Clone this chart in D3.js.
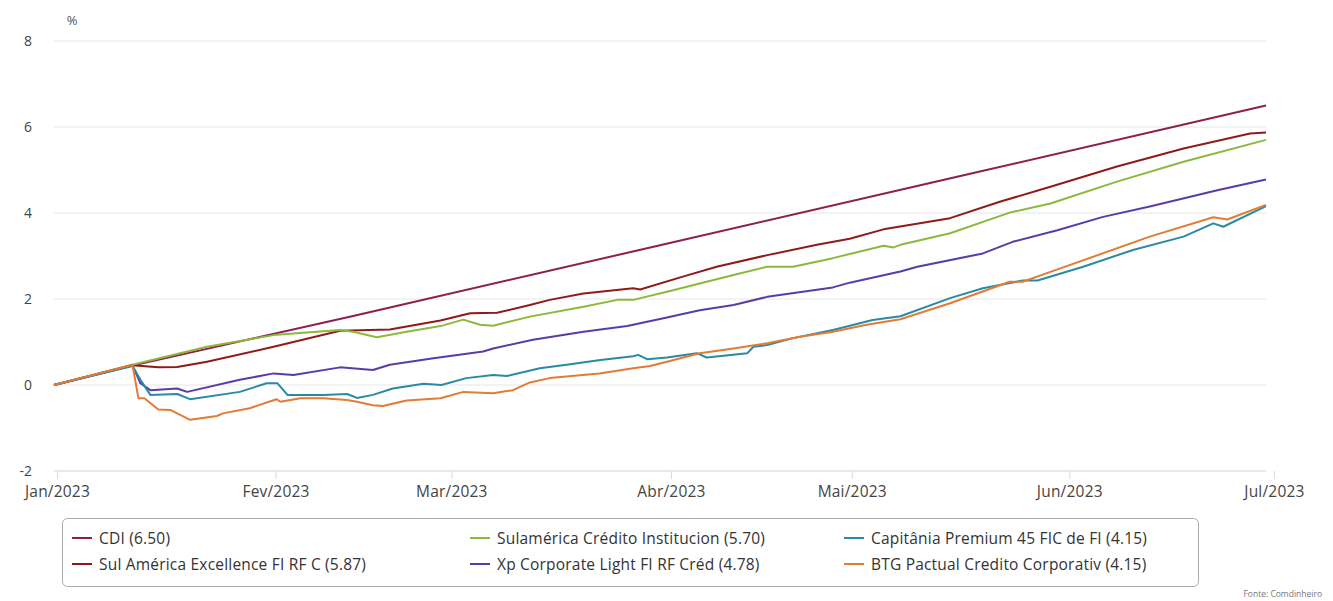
<!DOCTYPE html>
<html>
<head>
<meta charset="utf-8">
<script src="https://cdn.jsdelivr.net/npm/d3@7"></script>
<style>
  body { margin: 0; background: #fff; }
  svg { font-family: "Open Sans", sans-serif; }
</style>
</head>
<body>
<div id="chart"></div>
<script>
// x values are trading-day index since start of 2023

var monthTicks = [0.3, 22.3, 40.0, 62.1, 80.3, 102.2, 122.8];
var monthLabels = ["Jan/2023", "Fev/2023", "Mar/2023", "Abr/2023", "Mai/2023", "Jun/2023", "Jul/2023"];
var yTicks = [-2, 0, 2, 4, 6, 8];

var cdi = [[0, 0], [7.9, 0.45], [30, 1.6], [61, 3.25], [92, 4.9], [122, 6.5]];

var sulAmerica = [[0, 0], [7.9, 0.46], [10.5, 0.41], [12.4, 0.42], [15.4, 0.54], [22.1, 0.89], [28.8, 1.26],
    [33.8, 1.29], [38.9, 1.50], [41.9, 1.67], [44.6, 1.68], [47.9, 1.86], [49.9, 1.98], [53.3, 2.13],
    [58.3, 2.25], [59.0, 2.22], [63.3, 2.52], [66.7, 2.75], [71.8, 3.02], [76.8, 3.26], [80.1, 3.40],
    [83.5, 3.62], [90.2, 3.88], [95.2, 4.26], [100.3, 4.61], [107, 5.08], [113.7, 5.50], [120.4, 5.85], [122, 5.87]];

var sulamericaCredito = [[0, 0], [7.9, 0.47], [15.4, 0.89], [22.1, 1.16], [28.8, 1.28], [30.1, 1.24],
    [32.5, 1.11], [35.5, 1.24], [38.9, 1.37], [41.2, 1.52], [42.9, 1.40], [44.2, 1.38], [47.9, 1.59],
    [53.3, 1.82], [56.7, 1.98], [58.3, 1.98], [61.7, 2.17], [68.4, 2.56], [71.8, 2.75], [74.4, 2.75],
    [78.4, 2.95], [83.5, 3.24], [84.5, 3.20], [85.2, 3.26], [90.2, 3.53], [96.2, 4.01], [100.3, 4.22],
    [107, 4.73], [113.7, 5.19], [122, 5.70]];

var xpCorporate = [[0, 0], [7.9, 0.46], [8.7, 0.04], [9.7, -0.12], [12.4, -0.08], [13.4, -0.16], [18.7, 0.12],
    [22.1, 0.27], [24.1, 0.23], [28.8, 0.41], [32.1, 0.35], [33.8, 0.47], [38.2, 0.62], [43.2, 0.78],
    [44.2, 0.85], [48.2, 1.05], [53.3, 1.24], [57.7, 1.37], [61.7, 1.57], [65, 1.74], [68.4, 1.86],
    [71.8, 2.05], [78.4, 2.27], [80.1, 2.38], [85.2, 2.64], [86.9, 2.75], [93.5, 3.06], [96.5, 3.33],
    [101, 3.60], [105.6, 3.91], [110.3, 4.15], [117.1, 4.53], [122, 4.78]];

var capitania = [[0, 0], [7.9, 0.44], [8.7, 0.12], [9.7, -0.23], [12.4, -0.21], [13.7, -0.33], [18.7, -0.16],
    [21.4, 0.04], [22.5, 0.04], [23.5, -0.23], [27.1, -0.23], [29.5, -0.21], [30.5, -0.30], [32.1, -0.23],
    [34.1, -0.08], [37.2, 0.03], [39.0, 0.0], [41.5, 0.16], [44.2, 0.23], [45.6, 0.21], [48.9, 0.39],
    [51.6, 0.47], [55, 0.58], [58.3, 0.67], [58.8, 0.70], [59.7, 0.60], [61.7, 0.64], [64.7, 0.74],
    [65.7, 0.64], [69.8, 0.74], [70.4, 0.89], [71.8, 0.93], [74.4, 1.09], [78.4, 1.28], [82.4, 1.51],
    [85.2, 1.60], [90.2, 2.02], [93.5, 2.25], [97.5, 2.43], [99, 2.43], [103.6, 2.75], [108.6, 3.14],
    [113.7, 3.45], [116.7, 3.76], [117.7, 3.68], [122, 4.16]];

var btgPactual = [[0, 0], [7.9, 0.47], [8.5, -0.31], [9.1, -0.31], [10.5, -0.57], [11.7, -0.58], [13.7, -0.81],
    [16.4, -0.72], [17, -0.66], [19.7, -0.54], [22.4, -0.33], [22.8, -0.39], [24.8, -0.31], [27.1, -0.31],
    [29.5, -0.35], [30.5, -0.39], [32.1, -0.47], [33.1, -0.49], [35.5, -0.36], [38.9, -0.31], [41.2, -0.16],
    [44.2, -0.19], [46.2, -0.12], [47.9, 0.06], [49.9, 0.16], [54.9, 0.27], [58.3, 0.39], [60, 0.44],
    [61.7, 0.54], [65, 0.74], [68.4, 0.85], [71.8, 0.97], [75.1, 1.12], [78.4, 1.24], [81.8, 1.40],
    [85.2, 1.53], [90.2, 1.90], [96.2, 2.40], [97.5, 2.40], [100.3, 2.63], [110.3, 3.45], [116.7, 3.90],
    [118.1, 3.85], [122, 4.19]];

// legend order (row by row)
var names = ["CDI (6.50)", "Sulamérica Crédito Institucion (5.70)", "Capitânia Premium 45 FIC de FI (4.15)",
    "Sul América Excellence FI RF C (5.87)", "Xp Corporate Light FI RF Créd (4.78)", "BTG Pactual Credito Corporativ (4.15)"];
var colors = ["#8c1f4f", "#8db83c", "#2a8aa6", "#8e1b1b", "#5a3ca8", "#e27b35"];
var seriesData = [cdi, sulamericaCredito, capitania, sulAmerica, xpCorporate, btgPactual];
var drawOrder = [0, 3, 1, 4, 2, 5];

var width = 1333, height = 601;

var svg = d3.select("#chart").append("svg")
    .attr("width", width)
    .attr("height", height);

var x = d3.scaleLinear().domain([0, 122]).range([54, 1266]);
var y = d3.scaleLinear().domain([-2, 8]).range([471, 41]);

// gridlines
svg.append("g")
    .selectAll("line")
    .data(yTicks)
    .enter().append("line")
    .attr("x1", 54)
    .attr("x2", 1266)
    .attr("y1", function(d) { return y(d); })
    .attr("y2", function(d) { return y(d); })
    .attr("stroke", function(d) { return d == -2 ? "#cdd3dc" : "#e6e6e6"; })
    .attr("stroke-width", 1);

// y labels
svg.append("g")
    .selectAll("text")
    .data(yTicks)
    .enter().append("text")
    .attr("x", 32)
    .attr("y", function(d) { return y(d) + 5; })
    .attr("text-anchor", "end")
    .attr("font-size", 14)
    .attr("fill", "#444")
    .text(function(d) { return d < 0 ? "-" + Math.abs(d) : d; });

svg.append("text")
    .attr("x", 72)
    .attr("y", 25)
    .attr("text-anchor", "middle")
    .attr("font-size", 13)
    .attr("fill", "#555")
    .text("%");

// x axis
var xAxis = d3.axisBottom(x)
    .tickValues(monthTicks)
    .tickSize(8)
    .tickPadding(7)
    .tickFormat(function(d, i) { return monthLabels[i]; });

var gx = svg.append("g")
    .attr("transform", "translate(0,471)")
    .call(xAxis);
gx.select(".domain").remove();
gx.selectAll("line").attr("stroke", "#d8dde6");
gx.selectAll("text")
    .attr("font-size", 15.5)
    .attr("letter-spacing", 0.2)
    .attr("fill", "#444")
    .attr("font-family", "Open Sans, sans-serif");

// lines
var line = d3.line()
    .x(function(d) { return x(d[0]); })
    .y(function(d) { return y(d[1]); });

svg.append("g")
    .selectAll("path")
    .data(drawOrder)
    .enter().append("path")
    .attr("d", function(i) { return line(seriesData[i]); })
    .attr("fill", "none")
    .attr("stroke", function(i) { return colors[i]; })
    .attr("stroke-width", 2)
    .attr("stroke-linejoin", "round");

// legend
svg.append("rect")
    .attr("x", 62.5)
    .attr("y", 518.5)
    .attr("width", 1136)
    .attr("height", 68)
    .attr("rx", 5)
    .attr("fill", "none")
    .attr("stroke", "#aaa");

var colX = [72, 470, 844];
var rowY = [538, 564];

var items = svg.append("g")
    .selectAll("g")
    .data(names)
    .enter().append("g")
    .attr("transform", function(d, i) {
        return "translate(" + colX[i % 3] + "," + rowY[Math.floor(i / 3)] + ")";
    });

items.append("line")
    .attr("x1", 0)
    .attr("x2", 20)
    .attr("y1", 0)
    .attr("y2", 0)
    .attr("stroke", function(d, i) { return colors[i]; })
    .attr("stroke-width", 2);

items.append("text")
    .attr("x", 27)
    .attr("y", 5.5)
    .attr("font-size", 15.5)
    .attr("letter-spacing", 0.2)
    .attr("fill", "#333")
    .text(function(d) { return d; });

svg.append("text")
    .attr("x", 1322)
    .attr("y", 597)
    .attr("text-anchor", "end")
    .attr("font-size", 8.5)
    .attr("fill", "#777")
    .text("Fonte: Comdinheiro");
</script>
</body>
</html>
